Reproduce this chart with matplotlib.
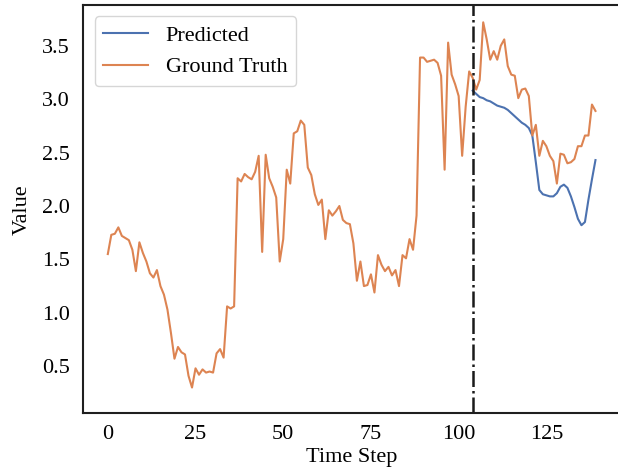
import numpy as np
import matplotlib
matplotlib.use('Agg')
import matplotlib.pyplot as plt

# values
ground_truth = [
    1.55, 1.73, 1.74, 1.80, 1.72, 1.70, 1.68, 1.59, 1.39, 1.66,
    1.56, 1.48, 1.37, 1.33, 1.40, 1.25, 1.17, 1.03, 0.81, 0.57,
    0.68, 0.63, 0.61, 0.41, 0.30, 0.48, 0.42, 0.47, 0.44, 0.45,
    0.44, 0.62, 0.66, 0.58, 1.06, 1.04, 1.06, 2.26, 2.23, 2.30,
    2.27, 2.25, 2.32, 2.47, 1.57, 2.48, 2.26, 2.18, 2.08, 1.48,
    1.69, 2.34, 2.21, 2.68, 2.70, 2.80, 2.76, 2.36, 2.29, 2.11,
    2.01, 2.06, 1.69, 1.96, 1.91, 1.95, 2.00, 1.87, 1.84, 1.83,
    1.65, 1.30, 1.48, 1.25, 1.26, 1.36, 1.19, 1.54, 1.45, 1.39,
    1.43, 1.35, 1.40, 1.25, 1.54, 1.51, 1.69, 1.59, 1.91, 3.39,
    3.39, 3.35, 3.36, 3.37, 3.34, 3.22, 2.34, 3.53, 3.23, 3.14,
    3.03, 2.47, 2.93, 3.26, 3.20, 3.09, 3.18, 3.72, 3.56, 3.37,
    3.45, 3.37, 3.50, 3.56, 3.31, 3.23, 3.22, 3.01, 3.09, 3.10,
    3.03, 2.66, 2.76, 2.47, 2.61, 2.56, 2.47, 2.42, 2.21, 2.49,
    2.48, 2.40, 2.41, 2.44, 2.56, 2.56, 2.66, 2.66, 2.95, 2.89,
]
split_step = 104
predicted = [
    3.08, 3.05, 3.02, 3.01, 2.99, 2.98, 2.96, 2.94, 2.93, 2.92,
    2.90, 2.87, 2.84, 2.81, 2.78, 2.76, 2.73, 2.66, 2.41, 2.15,
    2.11, 2.10, 2.09, 2.09, 2.12, 2.18, 2.20, 2.17, 2.09, 1.99,
    1.88, 1.82, 1.85, 2.06, 2.25, 2.43,
]

plt.rcParams['font.family'] = ['Liberation Serif', 'DejaVu Serif']
plt.rcParams['font.size'] = 16

fig = plt.figure(figsize=(6.18, 4.76), dpi=100)
ax = fig.add_axes([0.135, 0.132, 0.868, 0.857])

steps = np.arange(len(ground_truth))
pred_steps = np.arange(split_step, split_step + len(predicted))

ax.plot(pred_steps, predicted, color='#4c72b0', lw=1.5, label='Predicted')
ax.plot(steps, ground_truth, color='#dd8452', lw=1.5, label='Ground Truth')
ax.axvline(split_step, color='#1a1a1a', ls='-.', lw=1.8)

ax.set_ylim(0.06, 3.88)
ax.set_xticks([0, 25, 50, 75, 100, 125])
ax.set_yticks([0.5, 1.0, 1.5, 2.0, 2.5, 3.0, 3.5])
ax.tick_params(axis='both', length=0, labelsize=16)
ax.tick_params(axis='x', pad=8.5)
ax.tick_params(axis='y', pad=10)

ax.set_xlabel('Time Step', fontsize=16, labelpad=3)
ax.set_ylabel('Value', fontsize=16, labelpad=7)

for sp in ax.spines.values():
    sp.set_color('#1f1f1f')
    sp.set_linewidth(1.5)

ax.legend(loc='upper left', fontsize=16)

fig.savefig('out.png', dpi=100)
